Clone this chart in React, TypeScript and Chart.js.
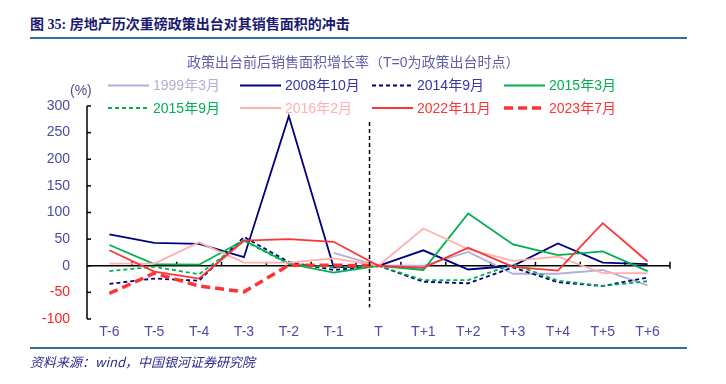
import React, { useEffect, useRef } from "react";
import { Chart, registerables } from "chart.js";

Chart.register(...registerables);

const categories = ["T-6", "T-5", "T-4", "T-3", "T-2", "T-1", "T", "T+1", "T+2", "T+3", "T+4", "T+5", "T+6"];
const yTicks = [-100, -50, 0, 50, 100, 150, 200, 250, 300];

const s1999 = [null, null, null, null, null, 24, 0, 0, 26, -15, -15, -8, -37];
const s2008 = [59, 43, 41, 16, 281, -3, 0, 29, -7, 0, 42, 6, 3];
const s2014 = [-34, -24, -28, 54, 7, -8, 0, -30, -33, -3, -31, -38, -22];
const s2015a = [39, 3, 2, 48, 4, -13, 0, -8, 98, 40, 20, 27, -10];
const s2015b = [-10, -2, -16, 47, 3, -3, 0, -27, -27, 3, -28, -38, -29];
const s2016 = [4, 4, 44, 6, 6, 14, 0, 70, 31, 9, 17, -14, -14];
const s2022 = [29, -11, -24, 47, 50, 45, 0, -4, 34, -2, -9, 80, 8];
const s2023 = [-52, -14, -38, -49, 1, 1, 0, null, null, null, null, null, null];

const seriesNames = ["1999年3月", "2008年10月", "2014年9月", "2015年3月", "2015年9月", "2016年2月", "2022年11月", "2023年7月"];

const LAV = "#B0B0D8";
const NAVY = "#000080";
const GREEN = "#00B050";
const PINK = "#FFB0B0";
const RED = "#FF3333";

const FONT = "'Liberation Sans', 'Noto Sans CJK SC', sans-serif";

const overlayPlugin = {
  id: "overlay",
  beforeDatasetsDraw(chart: any) {
    const { ctx, chartArea, scales } = chart;
    const ys = scales.y;
    const left = chartArea.left;
    const right = chartArea.right;
    ctx.save();
    ctx.strokeStyle = "#000";
    ctx.lineWidth = 1.5;
    ctx.beginPath();
    ctx.moveTo(left, ys.getPixelForValue(300));
    ctx.lineTo(left, ys.getPixelForValue(-100));
    ctx.stroke();
    yTicks.forEach((v) => {
      const y = ys.getPixelForValue(v);
      ctx.beginPath();
      ctx.moveTo(left, y);
      ctx.lineTo(left + 4, y);
      ctx.stroke();
    });
    const y0 = ys.getPixelForValue(0);
    ctx.beginPath();
    ctx.moveTo(left, y0);
    ctx.lineTo(right, y0);
    ctx.stroke();
    const n = categories.length;
    const w = (right - left) / n;
    for (let k = 1; k <= n; k++) {
      const x = left + k * w;
      ctx.beginPath();
      ctx.moveTo(x, y0 - 4);
      ctx.lineTo(x, k === n ? y0 + 3 : y0);
      ctx.stroke();
    }
    ctx.restore();
  },
  afterDraw(chart: any) {
    const { ctx, chartArea, scales } = chart;
    const xs = scales.x;
    const ys = scales.y;
    const n = categories.length;
    const w = (chartArea.right - chartArea.left) / n;
    const xT = xs.getPixelForValue(6) - 0.2 * w;
    ctx.save();
    ctx.strokeStyle = "#000";
    ctx.lineWidth = 1.5;
    ctx.setLineDash([4, 3]);
    ctx.beginPath();
    ctx.moveTo(xT, ys.getPixelForValue(270));
    ctx.lineTo(xT, ys.getPixelForValue(-78));
    ctx.stroke();
    ctx.restore();

    const textColors = [LAV, "#3535A5", "#3535A5", GREEN, GREEN, PINK, RED, RED];
    chart.data.datasets.forEach((ds: any, i: number) => {
      const col = i % 4;
      const row = Math.floor(i / 4);
      const sx = 108 + col * 132;
      const sy = 85.5 + row * 22.5;
      ctx.save();
      ctx.strokeStyle = ds.borderColor;
      ctx.lineWidth = ds.borderWidth;
      ctx.setLineDash(ds.borderDash || []);
      ctx.beginPath();
      ctx.moveTo(sx, sy);
      ctx.lineTo(sx + 41, sy);
      ctx.stroke();
      ctx.setLineDash([]);
      ctx.fillStyle = textColors[i];
      ctx.font = "14px " + FONT;
      ctx.textBaseline = "middle";
      ctx.textAlign = "left";
      ctx.fillText(seriesNames[i], sx + 45, sy + 1);
      ctx.restore();
    });
  },
};

export default function App() {
  const canvasRef = useRef<HTMLCanvasElement | null>(null);

  useEffect(() => {
    document.body.style.margin = "0";
    const canvas = canvasRef.current;
    if (!canvas) return;
    const mk = (i: number, data: any[], color: string, width: number, dash: number[] | undefined) => ({
      label: seriesNames[i],
      data,
      borderColor: color,
      backgroundColor: color,
      borderWidth: width,
      borderDash: dash,
      pointRadius: 0,
      tension: 0,
      fill: false,
      spanGaps: false,
      order: 7 - i,
    });
    const chart = new Chart(canvas, {
      type: "line",
      data: {
        labels: categories,
        datasets: [
          mk(0, s1999, LAV, 1.8, undefined),
          mk(1, s2008, NAVY, 1.8, undefined),
          mk(2, s2014, NAVY, 1.8, [4, 3]),
          mk(3, s2015a, GREEN, 1.8, undefined),
          mk(4, s2015b, GREEN, 1.8, [4, 3]),
          mk(5, s2016, PINK, 1.8, undefined),
          mk(6, s2022, RED, 1.8, undefined),
          mk(7, s2023, RED, 3.5, [9, 5]),
        ] as any,
      },
      options: {
        responsive: false,
        animation: false,
        devicePixelRatio: 1,
        layout: { padding: { left: 0, right: 56, top: 106, bottom: 35 } },
        plugins: {
          legend: { display: false },
          tooltip: { enabled: false },
          title: { display: false },
        },
        scales: {
          x: {
            type: "category",
            offset: true,
            grid: { display: false, drawTicks: false },
            border: { display: false },
            ticks: {
              color: "#4B4BA5",
              font: { family: FONT, size: 14 },
              padding: 5,
              maxRotation: 0,
              autoSkip: false,
            },
            afterFit: (scale: any) => {
              scale.height = 30;
            },
          },
          y: {
            min: -100,
            max: 300,
            grid: { display: false, drawTicks: false },
            border: { display: false },
            ticks: {
              stepSize: 50,
              padding: 17,
              font: { family: FONT, size: 14 },
              color: (c: any) => (c.tick && c.tick.value < 0 ? "#FF2020" : "#4B4BA5"),
            },
            afterFit: (scale: any) => {
              scale.width = 87;
            },
          },
        },
      },
      plugins: [overlayPlugin],
    });
    return () => chart.destroy();
  }, []);

  return (
    <div style={{ position: "relative", width: 726, height: 384, background: "#fff", overflow: "hidden" }}>
      <div
        style={{
          position: "absolute",
          left: 30,
          top: 16,
          fontFamily: "'Liberation Serif', 'Noto Sans CJK SC', serif",
          fontWeight: "bold",
          fontSize: 14,
          lineHeight: "17px",
          color: "#1A1A70",
          whiteSpace: "nowrap",
        }}
      >
        图 35:  房地产历次重磅政策出台对其销售面积的冲击
      </div>
      <div style={{ position: "absolute", left: 30, top: 37, width: 657, height: 2, background: "#2F6FA8" }} />
      <canvas
        ref={canvasRef}
        width={726}
        height={384}
        style={{ position: "absolute", left: 0, top: 0, width: 726, height: 384 }}
      />
      <div
        style={{
          position: "absolute",
          left: 187,
          top: 54,
          fontFamily: FONT,
          fontSize: 14,
          lineHeight: "16px",
          color: "#6060A8",
          whiteSpace: "nowrap",
        }}
      >
        政策出台前后销售面积增长率（T=0为政策出台时点）
      </div>
      <div
        style={{
          position: "absolute",
          left: 70,
          top: 82,
          fontFamily: FONT,
          fontSize: 14,
          lineHeight: "16px",
          color: "#505090",
          whiteSpace: "nowrap",
        }}
      >
        (%)
      </div>
      <div style={{ position: "absolute", left: 30, top: 347, width: 657, height: 2, background: "#2F6FA8" }} />
      <div
        style={{
          position: "absolute",
          left: 30,
          top: 354,
          fontFamily: "'Noto Sans CJK SC', sans-serif",
          fontStyle: "italic",
          fontSize: 13,
          lineHeight: "16px",
          color: "#2B2B90",
          whiteSpace: "nowrap",
        }}
      >
        资料来源：wind，中国银河证券研究院
      </div>
    </div>
  );
}
